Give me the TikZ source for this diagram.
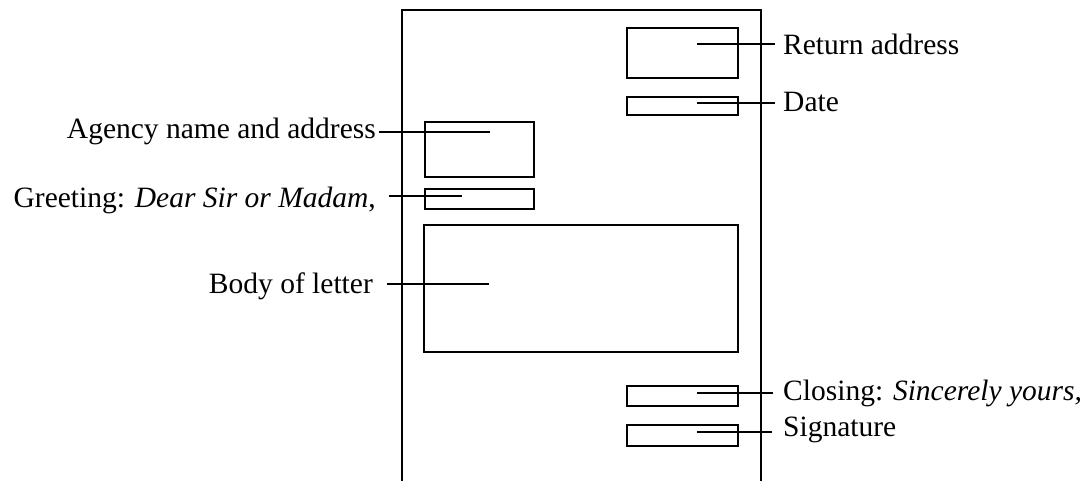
\documentclass[tikz,border=0pt]{standalone}
\usepackage{fontspec}
\setmainfont{Liberation Serif}
\begin{document}
\begin{tikzpicture}[x=1pt,y=-1pt,
  slot/.style={draw,line width=1.5pt,inner sep=0pt,minimum width=111pt},
  lbl/.style={inner sep=0pt,font=\fontsize{29.5}{34}\selectfont},
  leader/.style={line width=1.4pt},
  pageedge/.style={line width=1.8pt}]
\useasboundingbox (0,0) rectangle (1087,480);
% page outline (open at the bottom)
\coordinate (pBL) at (402,482);
\coordinate (pTL) at (402,10);
\coordinate (pTR) at (761,10);
\coordinate (pBR) at (761,482);
\draw[pageedge] (pBL) -- (pTL) -- (pTR) -- (pBR);
% boxes
\node[slot,minimum height=50pt] (retbox) at (682.5,53) {};
\node[slot,minimum height=18pt] (datebox) at (682.5,106) {};
\node[slot,minimum width=109pt,minimum height=55pt] (agbox) at (479.5,149.5) {};
\node[slot,minimum width=109pt,minimum height=20pt] (grbox) at (479.5,199) {};
\node[slot,minimum width=314pt,minimum height=127pt] (bodybox) at (581,288.5) {};
\node[slot,minimum height=20pt] (closebox) at (682.5,396) {};
\node[slot,minimum height=21pt] (sigbox) at (682.5,435.5) {};
% labels
\node[lbl,anchor=base west] (ret) at (783,54) {Return address};
\node[lbl,anchor=base west] (date) at (783,111) {Date};
\node[lbl,anchor=base west] (close) at (783,400) {Closing: \textit{Sincerely yours,}};
\node[lbl,anchor=base west] (sig) at (783,436) {Signature};
\node[lbl,anchor=base east] (ag) at (376,138) {Agency name and address};
\node[lbl,anchor=base east] (gr) at (376,207) {Greeting: \textit{Dear Sir or Madam},};
\node[lbl,anchor=base east] (body) at (373,293) {Body of letter};
% leader end points inside the boxes
\coordinate (retIn) at (697,44);
\coordinate (dateIn) at (697,103);
\coordinate (closeIn) at (697,393);
\coordinate (sigIn) at (697,432);
\coordinate (agIn) at (490,132);
\coordinate (grIn) at (462,196);
\coordinate (bodyIn) at (489,284);
% leader outer ends
\coordinate (retOut) at (775,44);
\coordinate (dateOut) at (775,103);
\coordinate (closeOut) at (773,393);
\coordinate (sigOut) at (772,432);
\coordinate (agOut) at (379,132);
\coordinate (grOut) at (389,196);
\coordinate (bodyOut) at (387,284);
\draw[leader] (retIn) -- (retOut);
\draw[leader] (dateIn) -- (dateOut);
\draw[leader] (closeIn) -- (closeOut);
\draw[leader] (sigIn) -- (sigOut);
\draw[leader] (agIn) -- (agOut);
\draw[leader] (grIn) -- (grOut);
\draw[leader] (bodyIn) -- (bodyOut);
\end{tikzpicture}
\end{document}
